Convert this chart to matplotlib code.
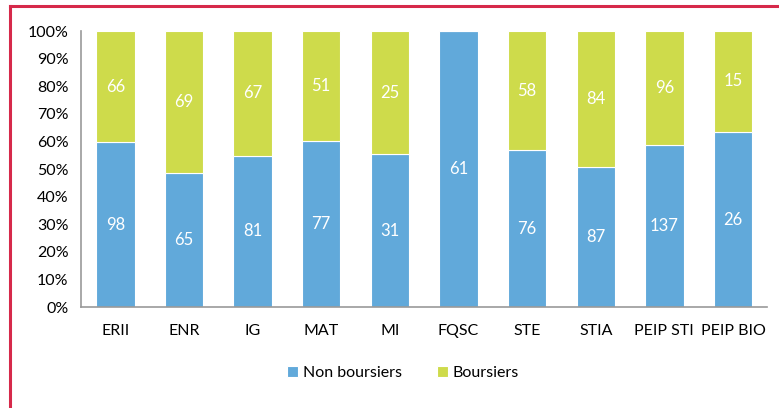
import numpy as np
import matplotlib.pyplot as plt
from matplotlib.lines import Line2D

categories = ['ERII', 'ENR', 'IG', 'MAT', 'MI', 'FQSC', 'STE', 'STIA', 'PEIP STI', 'PEIP BIO']
non_boursiers = [98, 65, 81, 77, 31, 61, 76, 87, 137, 26]
boursiers = [66, 69, 67, 51, 25, 0, 58, 84, 96, 15]

plt.rcParams['font.family'] = ['Lato', 'DejaVu Sans']
plt.rcParams['font.size'] = 11.5

nb = np.array(non_boursiers, dtype=float)
b = np.array(boursiers, dtype=float)
tot = nb + b
p_nb = nb / tot
p_b = b / tot

fig = plt.figure(figsize=(7.79, 4.08), dpi=100)
ax = fig.add_axes([0.104, 0.2475, 0.881, 0.6765])

x = np.arange(len(categories))
blue = '#61A9DA'
green = '#CEDB4B'
ax.bar(x, p_nb, width=0.56, color=blue, edgecolor='white', linewidth=0.8, label='Non boursiers')
ax.bar(x, p_b, bottom=p_nb, width=0.56, color=green, edgecolor='white', linewidth=0.8, label='Boursiers')

for i in range(len(categories)):
    ax.text(x[i], p_nb[i] / 2, str(non_boursiers[i]), ha='center', va='center', color='white', fontsize=12)
    if boursiers[i] > 0:
        ax.text(x[i], p_nb[i] + p_b[i] / 2, str(boursiers[i]), ha='center', va='center', color='white', fontsize=12)

ax.set_xlim(-0.5, len(categories) - 0.5)
ax.set_ylim(0, 1)
ax.set_yticks(np.arange(0, 1.01, 0.1))
ax.set_yticklabels([f'{int(round(v * 100))}%' for v in np.arange(0, 1.01, 0.1)])
ax.set_xticks(x)
ax.set_xticklabels(categories)
ax.tick_params(length=0, pad=9)
ax.tick_params(axis='x', pad=12)
for s in ['top', 'right']:
    ax.spines[s].set_visible(False)
for s in ['left', 'bottom']:
    ax.spines[s].set_color('#999999')
    ax.spines[s].set_linewidth(1.2)

fig.legend(loc='center', bbox_to_anchor=(0.517, 0.085), ncol=2, frameon=False,
           handlelength=0.7, handleheight=0.7, handletextpad=0.3, columnspacing=2.2, fontsize=11.5)

# red frame (left and top edges)
fig.add_artist(Line2D([0.0125, 0.0125], [0, 0.985], color='#D6294A', linewidth=2.2, transform=fig.transFigure))
fig.add_artist(Line2D([0.0125, 1.0], [0.985, 0.985], color='#D6294A', linewidth=2.2, transform=fig.transFigure))

fig.savefig('out.png', dpi=100)
